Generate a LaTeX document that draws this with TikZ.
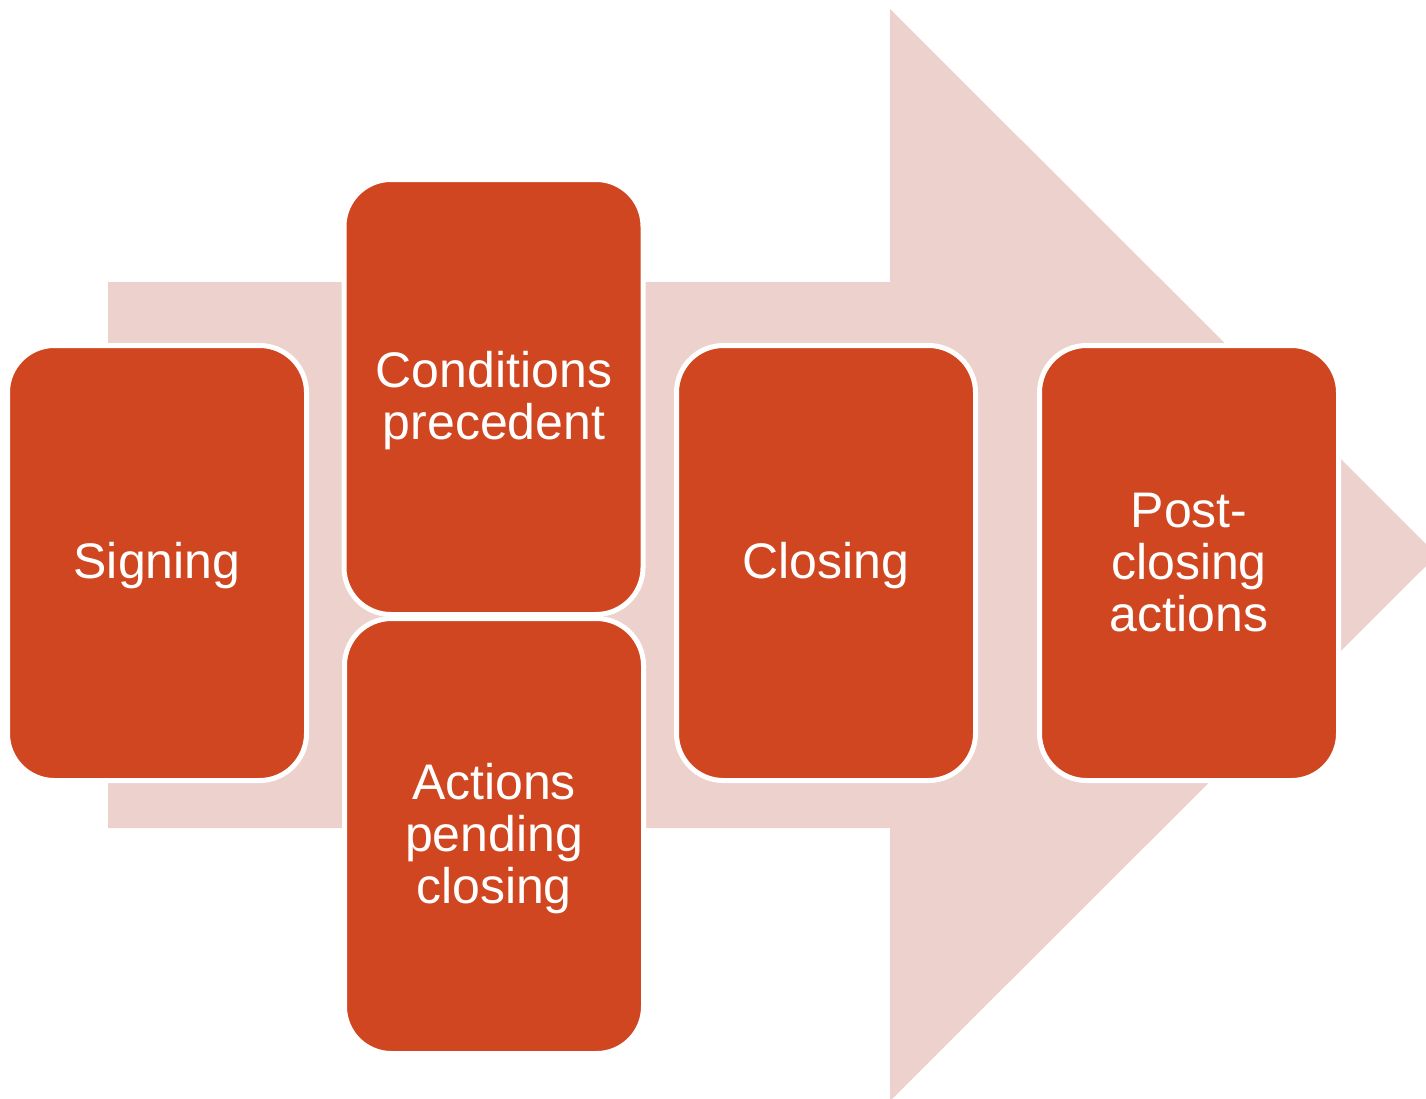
\documentclass[tikz,border=0pt]{standalone}
\usepackage{fontspec}
\setmainfont{Liberation Sans}
\definecolor{boxred}{RGB}{207,70,32}
\definecolor{arrowpink}{RGB}{237,209,205}
\tikzset{
  stagebox/.style={draw=white, line width=5pt, fill=boxred, rounded corners=47pt,
    inner sep=0pt, minimum width=299pt, minimum height=435pt},
  stagetext/.style={text=white, align=center, inner sep=0pt,
    font=\fontsize{50}{52}\selectfont}
}
\begin{document}
\begin{tikzpicture}[x=1pt,y=-1pt]
\useasboundingbox (0,0) rectangle (1426,1098);
% big arrow
\path[fill=arrowpink] (108,282) -- (890,282) -- (890,9) -- (1437,555) -- (890,1101) -- (890,828) -- (108,828) -- cycle;
% boxes
\node[stagebox] (signing) at (157,563) {};
\node[stagebox] (cp) at (493.5,397) {};
\node[stagebox] (apc) at (494,836) {};
\node[stagebox] (closing) at (826,563) {};
\node[stagebox] (post) at (1189,563) {};
% texts
\node[stagetext, anchor=base] (tsigning) at (157,578.5) {Signing};
\node[stagetext] (tcp) at (494,401) {Conditions\\precedent};
\node[stagetext] (tapc) at (494,839) {Actions\\pending\\closing};
\node[stagetext, anchor=base] (tclosing) at (826,578.5) {Closing};
\node[stagetext] (tpost) at (1189,563) {Post-\\closing\\actions};
\end{tikzpicture}
\end{document}
